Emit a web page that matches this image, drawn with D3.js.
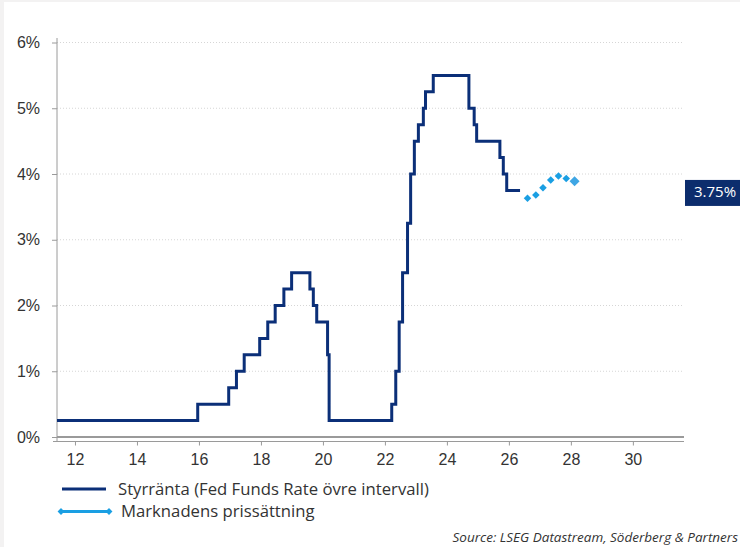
<!DOCTYPE html>
<html>
<head>
<meta charset="utf-8">
<script src="https://cdn.jsdelivr.net/npm/d3@7.9.0/dist/d3.min.js"></script>
<style>
  html, body { margin: 0; padding: 0; background: #f3f2f2; }
  svg { display: block; font-family: "Open Sans", sans-serif; }
</style>
</head>
<body>
<svg id="chart" width="740" height="547"></svg>
<script>
// Fed funds upper bound, step changes (decimal year, 12 = 2012)
const rateDates = [11.42, 15.96, 16.96, 17.21, 17.46, 17.96, 18.22, 18.46, 18.74, 18.99,
  19.58, 19.69, 19.80, 20.15, 20.20, 22.22, 22.35, 22.46, 22.57, 22.73, 22.83, 22.95,
  23.08, 23.24, 23.31, 23.56, 24.71, 24.88, 24.96, 25.71, 25.82, 25.93, 26.36];
const rateValues = [0.25, 0.50, 0.75, 1.00, 1.25, 1.50, 1.75, 2.00, 2.25, 2.50,
  2.25, 2.00, 1.75, 1.25, 0.25, 0.50, 1.00, 1.75, 2.50, 3.25, 4.00, 4.50,
  4.75, 5.00, 5.25, 5.50, 5.00, 4.75, 4.50, 4.25, 4.00, 3.75, 3.75];

// market pricing, quarterly
const marketDates = [26.60, 26.87, 27.10, 27.35, 27.60, 27.85, 28.12];
const marketValues = [3.63, 3.68, 3.79, 3.91, 3.97, 3.93, 3.89];

const xTicks = [12, 14, 16, 18, 20, 22, 24, 26, 28, 30];
const yTicks = [0, 1, 2, 3, 4, 5, 6];
const lastLabel = "3.75%";

const navy = "#0b2f78";
const lightBlue = "#1a9fe3";

const svg = d3.select("#chart");

// white card
svg.append("rect").attr("x", 4).attr("y", 2).attr("width", 736).attr("height", 545).attr("fill", "#fff");

const x = d3.scaleLinear().domain([11.42, 31.65]).range([57, 684]);
const y = d3.scaleLinear().domain([0, 6]).range([437, 42.5]);

// gridlines
svg.append("g")
  .selectAll("line")
  .data(yTicks.filter(d => d > 0))
  .join("line")
  .attr("x1", x.range()[0]).attr("x2", x.range()[1])
  .attr("y1", d => y(d)).attr("y2", d => y(d))
  .attr("stroke", "#d6d6d6").attr("stroke-dasharray", "1,2");

// zero line
svg.append("line")
  .attr("x1", x.range()[0]).attr("x2", x.range()[1])
  .attr("y1", y(0)).attr("y2", y(0))
  .attr("stroke", "#9a9a9a").attr("stroke-width", 2);

// y axis
const yAxis = svg.append("g")
  .attr("transform", `translate(${x.range()[0]},0)`)
  .call(d3.axisLeft(y).tickValues(yTicks).tickFormat(d => d + "%").tickSize(5).tickPadding(12));
yAxis.select(".domain").attr("stroke", "#9a9a9a").attr("d", "M0,38V441.5");
yAxis.selectAll(".tick line").attr("stroke", "#9a9a9a");
yAxis.selectAll("text").attr("font-size", 16).attr("fill", "#333");

// x axis
const xAxis = svg.append("g")
  .attr("transform", "translate(0,441.5)")
  .call(d3.axisBottom(x).tickValues(xTicks).tickSize(4).tickPadding(8));
xAxis.select(".domain").attr("stroke", "#9a9a9a").attr("d", `M53,0H${x.range()[1]}`);
xAxis.selectAll(".tick line").attr("stroke", "#9a9a9a");
xAxis.selectAll("text").attr("font-size", 16).attr("fill", "#333");

// policy rate step line
const rateData = rateDates.map((d, i) => ({ t: d, v: rateValues[i] }));
svg.append("path")
  .datum(rateData)
  .attr("fill", "none")
  .attr("stroke", navy)
  .attr("stroke-width", 3)
  .attr("d", d3.line().x(d => x(d.t)).y(d => y(d.v)).curve(d3.curveStepAfter));

// market pricing diamonds
const diamond = d3.symbol().type(d3.symbolDiamond2);
svg.append("g")
  .selectAll("path")
  .data(marketDates.map((d, i) => ({ t: d, v: marketValues[i], last: i === marketDates.length - 1 })))
  .join("path")
  .attr("transform", d => `translate(${x(d.t)},${y(d.v)})`)
  .attr("d", d => diamond.size(d.last ? 64 : 36)())
  .attr("fill", d => d.last ? "#3fa6e4" : lightBlue);

// last value label
svg.append("rect")
  .attr("x", 685).attr("y", y(3.75) - 10.5).attr("width", 60).attr("height", 26)
  .attr("fill", "#0c2d6d");
svg.append("text")
  .attr("x", 694).attr("y", y(3.75) + 2.5)
  .attr("dominant-baseline", "middle")
  .attr("font-size", 15).attr("fill", "#fff")
  .text(lastLabel);

// legend
const legend = svg.append("g");
legend.append("line").attr("x1", 62).attr("x2", 106).attr("y1", 489).attr("y2", 489)
  .attr("stroke", navy).attr("stroke-width", 3);
legend.append("text").attr("x", 118).attr("y", 491).attr("dominant-baseline", "middle")
  .attr("font-size", 16.7).attr("fill", "#333").text("Styrränta (Fed Funds Rate övre intervall)");
legend.append("line").attr("x1", 61).attr("x2", 109).attr("y1", 511.5).attr("y2", 511.5)
  .attr("stroke", lightBlue).attr("stroke-width", 3);
[61, 109].forEach(px => {
  legend.append("path").attr("transform", `translate(${px},511.5)`)
    .attr("d", diamond.size(30)()).attr("fill", lightBlue);
});
legend.append("text").attr("x", 121).attr("y", 513).attr("dominant-baseline", "middle")
  .attr("font-size", 16.7).attr("fill", "#333").text("Marknadens prissättning");

// source
svg.append("text")
  .attr("x", 738).attr("y", 538).attr("dominant-baseline", "middle")
  .attr("text-anchor", "end")
  .attr("font-size", 13.5).attr("font-style", "italic").attr("fill", "#333")
  .text("Source: LSEG Datastream, Söderberg & Partners");
</script>
</body>
</html>
